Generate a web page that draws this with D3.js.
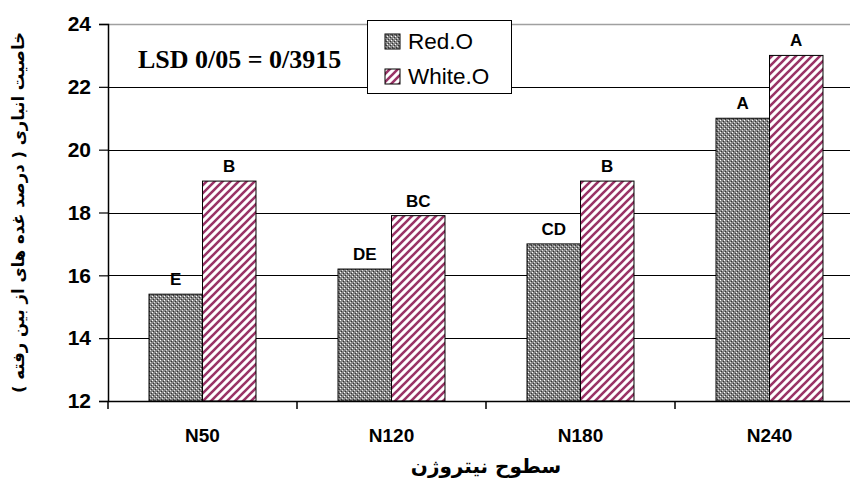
<!DOCTYPE html>
<html lang="fa">
<head>
<meta charset="utf-8">
<title>خاصیت انباری</title>
<script src="https://d3js.org/d3.v7.min.js"></script>
<style>
  body { margin: 0; background: #fff; }
  #chart text { font-family: Arial, "Liberation Sans", sans-serif; }
  #chart .fa { font-family: "DejaVu Sans", sans-serif; font-weight: bold; }
</style>
</head>
<body>
<div id="chart"></div>
<script>
"use strict"
// data
var categories = ["N50", "N120", "N180", "N240"];
var seriesNames = ["Red.O", "White.O"];
var redValues = [15.4, 16.2, 17.0, 21.0];
var whiteValues = [19.0, 17.9, 19.0, 23.0];
var redLetters = ["E", "DE", "CD", "A"];
var whiteLetters = ["B", "BC", "B", "A"];
var yTicks = [12, 14, 16, 18, 20, 22, 24];

var larguraSVG = 850, alturaSVG = 483;
var margin = {top: 24, left: 108},
    larguraVis = 756,      // plot runs a bit past the right edge, like the source
    alturaVis = 377;

var svg = d3.select('#chart').append('svg')
    .attr('width', larguraSVG)
    .attr('height', alturaSVG);

// patterns
var defs = svg.append('defs');
var pRed = defs.append('pattern')
    .attr('id', 'pRed').attr('patternUnits', 'userSpaceOnUse')
    .attr('width', 4).attr('height', 4);
pRed.append('rect').attr('width', 4).attr('height', 4).attr('fill', '#858585');
pRed.append('rect').attr('x', 0).attr('y', 0).attr('width', 1).attr('height', 1).attr('fill', '#ffffff');
pRed.append('rect').attr('x', 2).attr('y', 2).attr('width', 1).attr('height', 1).attr('fill', '#e0e0e0');
pRed.append('rect').attr('x', 1).attr('y', 3).attr('width', 1).attr('height', 1).attr('fill', '#333');
pRed.append('rect').attr('x', 3).attr('y', 1).attr('width', 1).attr('height', 1).attr('fill', '#333');

var pWhite = defs.append('pattern')
    .attr('id', 'pWhite').attr('patternUnits', 'userSpaceOnUse')
    .attr('width', 8).attr('height', 8);
pWhite.append('rect').attr('width', 8).attr('height', 8).attr('fill', '#fff');
pWhite.append('path')
    .attr('d', 'M-2,2 L2,-2 M0,8 L8,0 M6,10 L10,6')
    .attr('stroke', '#993366').attr('stroke-width', 2.6);

var fills = ['url(#pRed)', 'url(#pWhite)'];

var grafico = svg.append('g')
    .attr('transform', 'translate(' + margin.left + ',' + margin.top + ')');

// scales
var x = d3.scaleBand().domain(categories).range([0, larguraVis]);
var x1 = d3.scaleBand().domain(seriesNames)
    .range([x.bandwidth() * 0.217, x.bandwidth() * 0.783]);
var y = d3.scaleLinear().domain([12, 24]).range([alturaVis, 0]);

// gridlines
grafico.append('g')
  .selectAll('line')
  .data(yTicks.filter(d => d > 12))
  .enter().append('line')
    .attr('x1', 0).attr('x2', larguraVis)
    .attr('y1', d => Math.round(y(d)) + 0.5).attr('y2', d => Math.round(y(d)) + 0.5)
    .attr('stroke', d => d === 24 ? '#a0a0a0' : '#000')
    .attr('stroke-width', d => d === 24 ? 1.5 : 1);

// bars
var dados = [];
categories.forEach(function(c, i) {
  dados.push({cat: c, serie: seriesNames[0], v: redValues[i], letra: redLetters[i], s: 0});
  dados.push({cat: c, serie: seriesNames[1], v: whiteValues[i], letra: whiteLetters[i], s: 1});
});

grafico.selectAll('rect.bar')
  .data(dados)
  .enter().append('rect')
    .attr('class', 'bar')
    .attr('x', d => x(d.cat) + x1(d.serie))
    .attr('y', d => y(d.v))
    .attr('width', x1.bandwidth())
    .attr('height', d => alturaVis - y(d.v))
    .attr('fill', d => fills[d.s])
    .attr('stroke', '#000')
    .attr('stroke-width', 1);

grafico.selectAll('text.letra')
  .data(dados)
  .enter().append('text')
    .attr('class', 'letra')
    .attr('x', d => x(d.cat) + x1(d.serie) + x1.bandwidth() / 2)
    .attr('y', d => y(d.v) - 9)
    .attr('text-anchor', 'middle')
    .style('font-weight', 'bold')
    .style('font-size', '17px')
    .text(d => d.letra);

// y axis
var eixoY = grafico.append('g')
    .call(d3.axisLeft(y).tickValues(yTicks).tickSize(9).tickPadding(8).tickFormat(d3.format('d')));
eixoY.select('.domain').attr('stroke', '#000').attr('stroke-width', 1.5);
eixoY.selectAll('line').attr('stroke', '#000').attr('stroke-width', 1.2);
eixoY.selectAll('text')
    .style('font-size', '21px').style('font-weight', 'bold')
    .attr('fill', '#000');

// x axis
var eixoX = grafico.append('g')
    .attr('transform', 'translate(0,' + alturaVis + ')')
    .call(d3.axisBottom(x).tickSize(0).tickPadding(28));
eixoX.select('.domain').attr('stroke', '#000').attr('stroke-width', 1.5);
eixoX.selectAll('text')
    .style('font-size', '19px').style('font-weight', 'bold')
    .attr('fill', '#000');
eixoX.selectAll('line.sep')
  .data(categories.concat(['fim']))
  .enter().append('line')
    .attr('class', 'sep')
    .attr('x1', (d, i) => i * x.step()).attr('x2', (d, i) => i * x.step())
    .attr('y1', 0).attr('y2', 8)
    .attr('stroke', '#000').attr('stroke-width', 1.5);

// axis titles
svg.append('text')
    .attr('class', 'fa')
    .attr('direction', 'rtl')
    .attr('transform', 'translate(24,' + (margin.top + alturaVis / 2) + ') rotate(-90)')
    .attr('text-anchor', 'middle')
    .style('font-size', '16.5px')
    .text('خاصیت انباری ( درصد غده های از بین رفته )');

svg.append('text')
    .attr('class', 'fa')
    .attr('direction', 'rtl')
    .attr('x', margin.left + larguraVis / 2).attr('y', 473)
    .attr('text-anchor', 'middle')
    .style('font-size', '20px')
    .text('سطوح نیتروژن');

// LSD note
svg.append('text')
    .attr('x', 138).attr('y', 68)
    .style('font-family', '"Liberation Serif", "Times New Roman", serif')
    .style('font-weight', 'bold')
    .style('font-size', '26px')
    .text('LSD 0/05 = 0/3915');

// legend
var legenda = svg.append('g').attr('transform', 'translate(367,20)');
legenda.append('rect')
    .attr('x', 0.5).attr('y', 0.5).attr('width', 144).attr('height', 73)
    .attr('fill', '#fff').attr('stroke', '#000');
seriesNames.forEach(function(nome, i) {
  legenda.append('rect')
      .attr('x', 18).attr('y', 14 + i * 35).attr('width', 15).attr('height', 15)
      .attr('fill', fills[i]).attr('stroke', '#000');
  legenda.append('text')
      .attr('x', 41).attr('y', 29 + i * 35)
      .style('font-size', '22.5px')
      .text(nome);
});
</script>
</body>
</html>
